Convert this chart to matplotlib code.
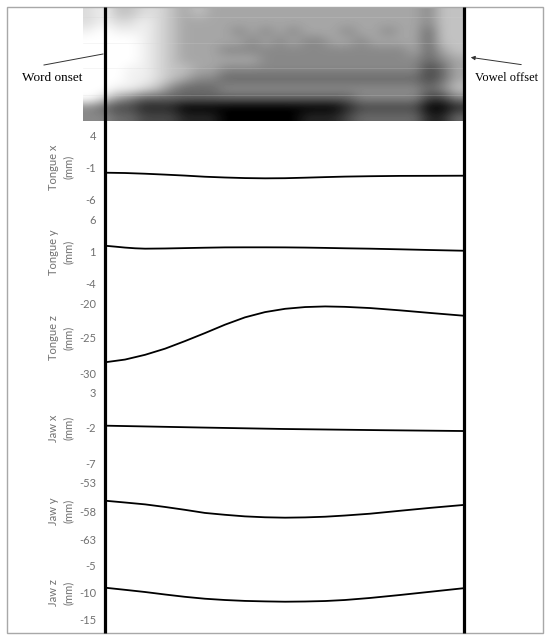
import numpy as np
import matplotlib.pyplot as plt
from matplotlib.patches import Rectangle
from matplotlib.colors import PowerNorm

W, H = 550, 640

# spectrogram darkness: 0 = white .. 9 = black
# 12 frequency bands (top = high) x 28 time frames
spec_rows = [
    "2133223434444444444444444533",
    "2122123444444444444444444533",
    "1011123444454545444544544633",
    "0000123444445454554454444633",
    "0000123444555555555555554643",
    "0000123444444555555555555654",
    "0001123344555555555555555764",
    "0001123455666666666666666764",
    "0011235666555555555555555653",
    "0245666666666666666655555775",
    "5677888999999999999877777998",
    "5566777888999999888766666886",
]

# articulator traces, time normalised from word onset (0) to vowel offset (1)
t_read = [0, 0.056, 0.112, 0.168, 0.223, 0.279, 0.335, 0.391, 0.447,
          0.503, 0.559, 0.615, 0.670, 0.740, 0.824, 0.908, 1.0]

tongue_x_mm = [-1.89, -1.94, -2.05, -2.19, -2.34, -2.52, -2.64, -2.73, -2.77,
               -2.75, -2.67, -2.58, -2.50, -2.44, -2.39, -2.38, -2.36]

tongue_y_t = [0, 0.028, 0.056, 0.084, 0.112, 0.168, 0.223, 0.279, 0.335, 0.391,
              0.447, 0.503, 0.559, 0.615, 0.670, 0.740, 0.824, 0.908, 1.0]
tongue_y_mm = [1.98, 1.84, 1.69, 1.58, 1.52, 1.55, 1.61, 1.67, 1.72, 1.73,
               1.73, 1.72, 1.69, 1.64, 1.58, 1.52, 1.42, 1.31, 1.20]

tongue_z_mm = [-28.47, -28.08, -27.40, -26.52, -25.45, -24.30, -23.10, -22.05, -21.30,
               -20.83, -20.58, -20.49, -20.55, -20.72, -21.05, -21.42, -21.81]

jaw_x_t = [0, 0.265, 0.497, 0.768, 1.0]
jaw_x_mm = [-1.69, -1.95, -2.16, -2.33, -2.45]

jaw_y_mm = [-56.18, -56.50, -56.83, -57.29, -57.79, -58.34, -58.67, -58.95, -59.11,
            -59.18, -59.13, -59.01, -58.80, -58.48, -57.96, -57.45, -56.94]

jaw_z_mm = [-9.07, -9.47, -9.88, -10.35, -10.78, -11.14, -11.38, -11.55, -11.64,
            -11.70, -11.66, -11.57, -11.38, -11.00, -10.44, -9.84, -9.18]

labels = ["Tongue x", "Tongue y", "Tongue z", "Jaw x", "Jaw y", "Jaw z"]
ticks = [[4, -1, -6], [6, 1, -4], [-20, -25, -30], [3, -2, -7], [-53, -58, -63], [-5, -10, -15]]
series = [(t_read, tongue_x_mm), (tongue_y_t, tongue_y_mm), (t_read, tongue_z_mm),
          (jaw_x_t, jaw_x_mm), (t_read, jaw_y_mm), (t_read, jaw_z_mm)]

# panel extents in pixels (top tick, bottom tick)
panel_px = [(135, 199), (220, 284), (303, 373), (392.7, 463), (482.7, 539.3), (566, 619.3)]
x0, x1 = 105, 463

fig = plt.figure(figsize=(W / 100, H / 100), dpi=100)

for (t, v), tk, lab, (top, bot) in zip(series, ticks, labels, panel_px):
    ax = fig.add_axes([x0 / W, 1 - bot / H, (x1 - x0) / W, (bot - top) / H])
    ax.plot(t, v, color="black", lw=1.3)
    ax.set_xlim(0, 1)
    ax.set_ylim(min(tk), max(tk))
    ax.set_yticks(tk)
    ax.set_yticklabels([str(k) for k in tk], fontsize=8, color="#707070", family="Lato")
    ax.tick_params(axis="y", length=0, pad=6.5)
    ax.set_xticks([])
    for s in ax.spines.values():
        s.set_visible(False)
    ax.patch.set_alpha(0)
    fig.text(61 / W, 1 - (top + bot) / 2 / H, lab + "\n(mm)", rotation=90,
             ha="center", va="center", multialignment="center",
             fontsize=8, color="#707070", family="Lato", linespacing=1.5)

# overlay in pixel coordinates: spectrogram, frame, boundary lines, annotations
ov = fig.add_axes([0, 0, 1, 1], zorder=10)
ov.patch.set_alpha(0)
ov.axis("off")

spec = np.array([[int(c) for c in row] for row in spec_rows], dtype=float)
ov.imshow(spec, cmap="gray_r", norm=PowerNorm(gamma=1.3, vmin=0, vmax=9),
          extent=(83, 463, 121, 8), aspect="auto", interpolation="bicubic")
for yy in [17, 43, 68, 95]:
    ov.plot([83, 463], [yy, yy], color="#d4d4d4", lw=0.5, alpha=0.3)

ov.add_patch(Rectangle((7, 7), 536, 626, fill=False, ec="#a8a8a8", lw=1))
ov.plot([105, 105], [7, 633], color="black", lw=2.3, solid_capstyle="butt")
ov.plot([464, 464], [7, 633], color="black", lw=2.3, solid_capstyle="butt")

ov.plot([44, 103], [65, 54], color="#333333", lw=0.7)
ov.annotate("", xy=(468, 57), xytext=(524, 65),
            arrowprops=dict(arrowstyle="-|>", color="#333333", lw=0.7, mutation_scale=6))
ov.text(52, 78, "Word onset", family="Liberation Serif", fontsize=9.5, ha="center", va="center")
ov.text(507, 78, "Vowel offset", family="Liberation Serif", fontsize=9, ha="center", va="center")

ov.set_xlim(0, W)
ov.set_ylim(H, 0)

fig.savefig("out.png", dpi=100)
